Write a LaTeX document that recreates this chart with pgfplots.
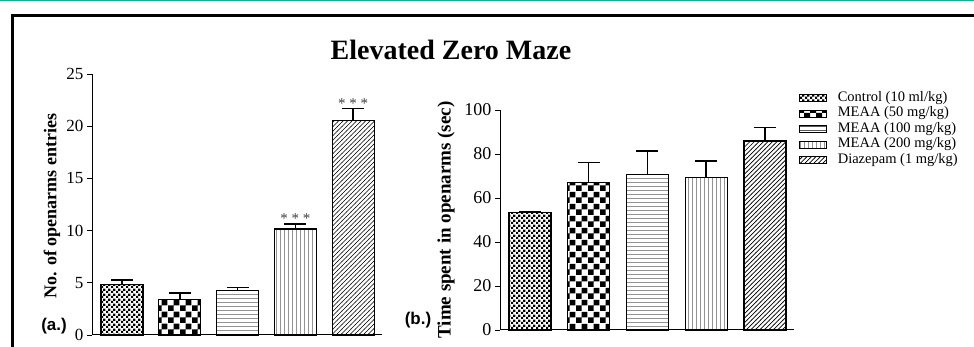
\documentclass[border=0pt]{standalone}
\usepackage{fontspec}
\setmainfont{Liberation Serif}
\newfontfamily\sansfont{Liberation Sans}
\usepackage{pgfplots}
\pgfplotsset{compat=1.18}
\usetikzlibrary{patterns}

\pgfdeclarepatternformonly{smallcheck}{\pgfpointorigin}{\pgfpoint{4.6pt}{4.6pt}}{\pgfpoint{4.6pt}{4.6pt}}{%
  \pgfpathrectangle{\pgfpointorigin}{\pgfpoint{2.3pt}{2.3pt}}%
  \pgfpathrectangle{\pgfpoint{2.3pt}{2.3pt}}{\pgfpoint{2.3pt}{2.3pt}}%
  \pgfusepath{fill}}
\pgfdeclarepatternformonly{bigcheck}{\pgfpointorigin}{\pgfpoint{12pt}{12pt}}{\pgfpoint{12pt}{12pt}}{%
  \pgfpathrectangle{\pgfpointorigin}{\pgfpoint{6pt}{6pt}}%
  \pgfpathrectangle{\pgfpoint{6pt}{6pt}}{\pgfpoint{6pt}{6pt}}%
  \pgfusepath{fill}}
\pgfdeclarepatternformonly{hlines}{\pgfpointorigin}{\pgfpoint{1pt}{4pt}}{\pgfpoint{1pt}{4pt}}{%
  \pgfpathrectangle{\pgfpointorigin}{\pgfpoint{1pt}{0.9pt}}%
  \pgfusepath{fill}}
\pgfdeclarepatternformonly{vlines}{\pgfpointorigin}{\pgfpoint{4pt}{1pt}}{\pgfpoint{4pt}{1pt}}{%
  \pgfpathrectangle{\pgfpointorigin}{\pgfpoint{0.9pt}{1pt}}%
  \pgfusepath{fill}}
\pgfdeclarepatternformonly{diag}{\pgfpoint{-1pt}{-1pt}}{\pgfpoint{5.5pt}{5.5pt}}{\pgfpoint{4.5pt}{4.5pt}}{%
  \pgfsetlinewidth{0.7pt}%
  \pgfpathmoveto{\pgfpoint{-0.2pt}{-0.2pt}}\pgfpathlineto{\pgfpoint{4.7pt}{4.7pt}}%
  \pgfusepath{stroke}}

\definecolor{tealline}{RGB}{20,175,150}

\pgfplotsset{
  mybars/.style={
    scale only axis,
    axis x line=bottom, axis y line=left,
    axis line style={line width=1pt,-},
    xtick=\empty,
    tick align=outside, major tick length=5pt,
    tick style={line width=0.8pt, black},
    /pgf/number format/assume math mode=true,
    ybar, bar width=42pt, bar shift=0pt,
    clip=false,
  },
  myerr/.style={draw=black, line width=1.2pt,
    error bars/.cd, y dir=plus, y explicit,
    error bar style={line width=1.5pt, black},
    error mark options={rotate=90, mark size=11pt, line width=1.5pt, black},
    /pgfplots/.cd},
  mylegend/.style={legend image code/.code={%
    \draw[##1, line width=1.1pt] (0pt,-3.5pt) rectangle (27pt,3.5pt);}},
}

\begin{document}
\begin{tikzpicture}[x=1pt,y=1pt]
\useasboundingbox (0pt,0pt) rectangle (974pt,347pt);
\draw[tealline, line width=2pt] (0pt,347pt) -- (974pt,347pt);
\draw[line width=3pt] (12pt,-5pt) -- (12pt,331pt) -- (980pt,331pt);

\node[font=\bfseries\fontsize{28}{28}\selectfont] at (451pt,297pt) {Elevated Zero Maze};

% left panel
\begin{axis}[mybars, at={(92pt,12pt)}, anchor=south west,
  width=290pt, height=261pt,
  xmin=-0.52, xmax=4.50, ymin=0, ymax=25,
  ytick={0,5,10,15,20,25},
  ticklabel style={font=\fontsize{17}{17}\selectfont},
]
\addplot[pattern=smallcheck, myerr] coordinates {(0,4.85) +- (0,0.42)};
\addplot[pattern=bigcheck, myerr] coordinates {(1,3.42) +- (0,0.58)};
\addplot[pattern=hlines, myerr] coordinates {(2,4.25) +- (0,0.30)};
\addplot[pattern=vlines, myerr] coordinates {(3,10.15) +- (0,0.48)};
\addplot[pattern=diag, myerr] coordinates {(4,20.53) +- (0,1.15)};
\node[anchor=south, font=\fontsize{15}{15}\selectfont, text=black!75, inner sep=0pt] at (axis cs:3,10.63) {* * *};
\node[anchor=south, font=\fontsize{15}{15}\selectfont, text=black!75, inner sep=0pt] at (axis cs:4,21.68) {* * *};
\end{axis}
\node[rotate=90, font=\bfseries\fontsize{18}{18}\selectfont] at (52pt,141pt) {No. of openarms entries};
\node[font=\sansfont\bfseries\fontsize{17}{17}\selectfont] at (54pt,21pt) {(a.)};

% right panel
\begin{axis}[mybars, at={(500pt,17pt)}, anchor=south west,
  width=294pt, height=220pt,
  xmin=-0.51, xmax=4.494, ymin=0, ymax=100,
  ytick={0,20,40,60,80,100},
  ticklabel style={font=\fontsize{18}{18}\selectfont},
  legend style={at={(1.017,1.09)}, anchor=north west, draw=none, fill=none,
    font=\fontsize{14.5}{14.5}\selectfont, inner sep=0pt, row sep=0pt,
    nodes={inner sep=1.5pt, text height=9.5pt, text depth=3pt},
    /tikz/every odd column/.append style={column sep=9pt}},
  legend cell align=left,
]
\addplot[mylegend, pattern=smallcheck, myerr] coordinates {(0,53.3) +- (0,0.5)};
\addlegendentry{Control (10 ml/kg)}
\addplot[mylegend, pattern=bigcheck, myerr] coordinates {(1,67.0) +- (0,9.2)};
\addlegendentry{MEAA (50 mg/kg)}
\addplot[mylegend, pattern=hlines, myerr] coordinates {(2,70.5) +- (0,10.9)};
\addlegendentry{MEAA (100 mg/kg)}
\addplot[mylegend, pattern=vlines, myerr] coordinates {(3,69.4) +- (0,7.4)};
\addlegendentry{MEAA (200 mg/kg)}
\addplot[mylegend, pattern=diag, myerr] coordinates {(4,85.9) +- (0,6.2)};
\addlegendentry{Diazepam (1 mg/kg)}
\end{axis}
\node[rotate=90, font=\bfseries\fontsize{19}{19}\selectfont] at (446pt,127pt) {Time spent in openarms (sec)};
\node[font=\sansfont\bfseries\fontsize{17}{17}\selectfont] at (418pt,27pt) {(b.)};
\end{tikzpicture}
\end{document}
